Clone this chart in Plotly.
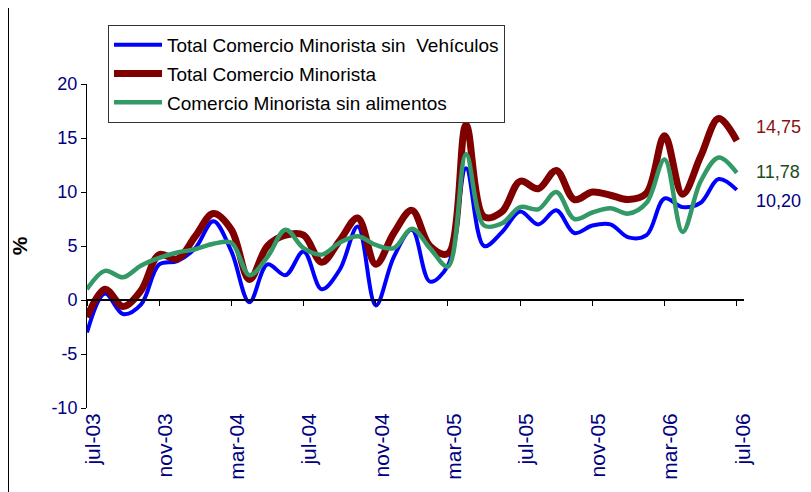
import plotly.graph_objects as go

month_names = ["jul-03", "ago-03", "sep-03", "oct-03", "nov-03", "dic-03",
               "ene-04", "feb-04", "mar-04", "abr-04", "may-04", "jun-04",
               "jul-04", "ago-04", "sep-04", "oct-04", "nov-04", "dic-04",
               "ene-05", "feb-05", "mar-05", "abr-05", "may-05", "jun-05",
               "jul-05", "ago-05", "sep-05", "oct-05", "nov-05", "dic-05",
               "ene-06", "feb-06", "mar-06", "abr-06", "may-06", "jun-06",
               "jul-06"]

sin_vehiculos = [-3.0, 0.6, -1.3, -0.4, 3.3, 3.6, 4.8, 7.3, 4.5, -0.2, 3.3, 2.3,
                 4.5, 1.0, 2.8, 6.8, -0.5, 4.0, 6.5, 1.7, 3.2, 12.2, 5.0, 6.3,
                 8.2, 7.0, 8.3, 6.2, 6.9, 7.0, 5.8, 6.0, 9.4, 8.6, 9.0, 11.2, 10.20]

total = [-1.6, 1.0, -0.6, 0.9, 4.2, 3.8, 5.9, 8.0, 6.5, 1.9, 5.0, 6.0,
         6.0, 3.5, 5.5, 7.6, 3.3, 6.2, 8.3, 5.0, 4.3, 16.2, 7.7, 8.2,
         11.0, 10.3, 12.0, 9.3, 10.0, 9.7, 9.3, 9.9, 15.2, 9.8, 13.3, 16.8, 14.75]

sin_alimentos = [1.0, 2.7, 2.1, 3.2, 3.9, 4.4, 4.7, 5.2, 5.3, 2.3, 4.0, 6.5,
                 4.8, 4.2, 5.3, 5.9, 5.1, 4.8, 6.6, 4.8, 3.1, 13.5, 6.9, 7.1,
                 8.6, 8.4, 10.0, 7.5, 8.1, 8.5, 8.0, 9.0, 13.0, 6.3, 11.0, 13.2, 11.78]

y_ticks = [-10, -5, 0, 5, 10, 15, 20]
y_tick_text = ["-10", "-5", "0", "5", "10", "15", "20"]

x = list(range(len(month_names)))
tick_idx = list(range(0, len(month_names), 4))
tick_text = [month_names[i] for i in tick_idx]

FONT = "Arial, 'Liberation Sans', sans-serif"
NAVY = "#000080"

series = [
    ("Total Comercio Minorista sin\u00a0 Vehículos", sin_vehiculos, "#0000FF", 4, NAVY, -11),
    ("Total Comercio Minorista", total, "#800000", 7, "#8B1010", 14),
    ("Comercio Minorista sin alimentos", sin_alimentos, "#339966", 4.5, "#1A4D1A", 1),
]

fig = go.Figure()
for i, (name, vals, color, w, lc, ysh) in enumerate(series):
    fig.add_trace(go.Scatter(
        x=x, y=vals, name=name, mode="lines",
        line=dict(color=color, width=w, shape="spline", smoothing=1.0),
        legendgroup=str(i), hoverinfo="skip",
    ))

# dummy trace to activate the axis drawn through zero
fig.add_trace(go.Scatter(x=[0], y=[None], xaxis="x2", yaxis="y",
                         showlegend=False, hoverinfo="skip"))

annotations = []
for name, vals, color, w, lc, ysh in series:
    annotations.append(dict(
        x=x[-1], y=vals[-1], xref="x", yref="y",
        text=f"{vals[-1]:.2f}".replace(".", ","),
        showarrow=False, xanchor="left", yanchor="middle",
        xshift=17, yshift=ysh,
        font=dict(family=FONT, size=18, color=lc),
    ))

# page body has an 8px margin, so the figure is laid out 8px up/left
W, H = 803, 484
L, T, PW, PH = 79, 76, 657, 324
xr = [0, 36.4]
fig.update_layout(
    width=W, height=H,
    margin=dict(l=L, r=W - L - PW, t=T, b=H - T - PH, autoexpand=False),
    paper_bgcolor="white", plot_bgcolor="white",
    showlegend=True,
    legend=dict(
        x=(100 - L) / PW, y=(T + PH - 17) / PH, xanchor="left", yanchor="top",
        bordercolor="#333333", borderwidth=1, bgcolor="white",
        font=dict(family=FONT, size=19, color="black"),
        itemwidth=48, tracegroupgap=1,
    ),
    xaxis=dict(
        range=xr, tickvals=tick_idx, ticktext=tick_text, tickangle=-90,
        showgrid=False, zeroline=False, showline=False, ticks="",
        ticklabelshift=6,
        tickfont=dict(family=FONT, size=21, color=NAVY), automargin=False,
    ),
    xaxis2=dict(
        range=xr, overlaying="x", anchor="free", position=10 / 30,
        tickvals=tick_idx, showticklabels=False, ticks="outside", ticklen=5,
        tickcolor="black", showline=True, linecolor="black", linewidth=1.5,
        showgrid=False, zeroline=False, automargin=False,
    ),
    yaxis=dict(
        range=[-10, 20], tickvals=y_ticks, ticktext=y_tick_text,
        ticks="outside", ticklen=5,
        showline=True, linecolor="black", linewidth=1, tickcolor="black",
        showgrid=False, zeroline=False, automargin=False,
        tickfont=dict(family=FONT, size=18, color=NAVY),
        title=dict(text="<b>%</b>", font=dict(family=FONT, size=21, color="black"), standoff=18),
    ),
    annotations=annotations,
    shapes=[dict(type="line", xref="paper", yref="paper",
                 x0=-(L - 0.5) / PW, x1=-(L - 0.5) / PW, y0=-0.3, y1=1.3,
                 line=dict(color="black", width=1))],
)

fig.write_html("out.html")
